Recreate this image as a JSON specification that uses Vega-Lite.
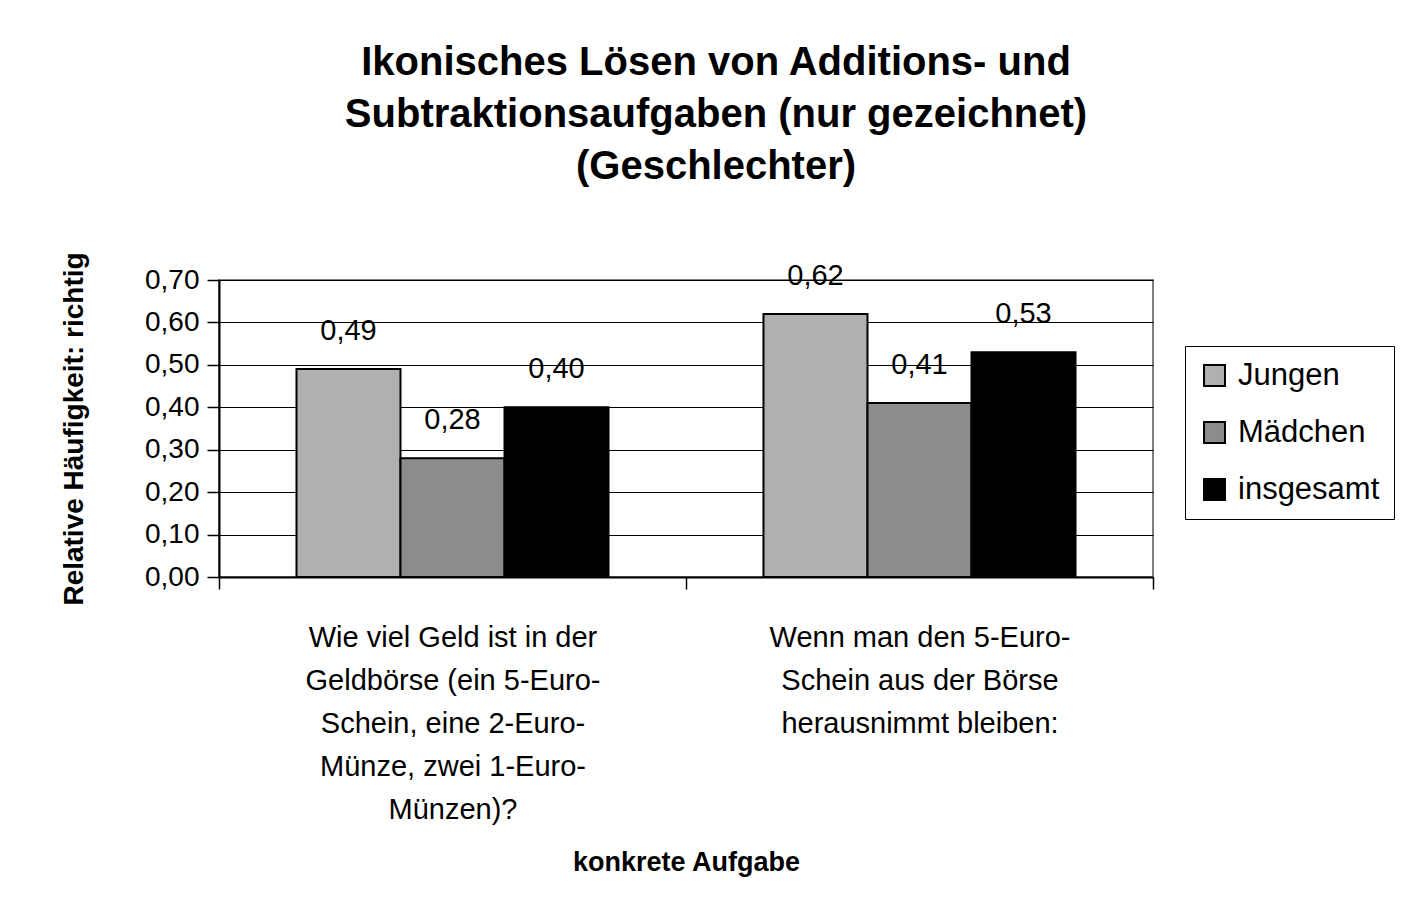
{
  "$schema": "https://vega.github.io/schema/vega-lite/v6.json",
  "width": 934,
  "height": 297,
  "autosize": {"type": "none"},
  "padding": {"left": 219, "top": 280, "right": 262, "bottom": 343},
  "background": "white",
  "config": {
    "font": "Liberation Sans",
    "locale": {"number": {"decimal": ",", "thousands": ".", "grouping": [3], "currency": ["", " €"]}},
    "view": {"stroke": "#808080", "strokeWidth": 2}
  },
  "title": {
    "text": ["Ikonisches Lösen von Additions- und", "Subtraktionsaufgaben (nur gezeichnet)", "(Geschlechter)"],
    "fontSize": 40,
    "fontWeight": "bold",
    "lineHeight": 52,
    "color": "black",
    "anchor": "middle",
    "dx": 30,
    "dy": 6,
    "offset": 71
  },
  "data": {
    "values": [
      {"aufgabe": "Wie viel Geld ist in der|Geldbörse (ein 5-Euro-|Schein, eine 2-Euro-|Münze, zwei 1-Euro-|Münzen)?", "gruppe": "Jungen", "wert": 0.49},
      {"aufgabe": "Wie viel Geld ist in der|Geldbörse (ein 5-Euro-|Schein, eine 2-Euro-|Münze, zwei 1-Euro-|Münzen)?", "gruppe": "Mädchen", "wert": 0.28},
      {"aufgabe": "Wie viel Geld ist in der|Geldbörse (ein 5-Euro-|Schein, eine 2-Euro-|Münze, zwei 1-Euro-|Münzen)?", "gruppe": "insgesamt", "wert": 0.40},
      {"aufgabe": "Wenn man den 5-Euro-|Schein aus der Börse|herausnimmt bleiben:", "gruppe": "Jungen", "wert": 0.62},
      {"aufgabe": "Wenn man den 5-Euro-|Schein aus der Börse|herausnimmt bleiben:", "gruppe": "Mädchen", "wert": 0.41},
      {"aufgabe": "Wenn man den 5-Euro-|Schein aus der Börse|herausnimmt bleiben:", "gruppe": "insgesamt", "wert": 0.53}
    ]
  },
  "encoding": {
    "x": {
      "field": "aufgabe",
      "type": "nominal",
      "sort": null,
      "scale": {"paddingInner": 0, "paddingOuter": 0},
      "axis": {
        "title": "konkrete Aufgabe",
        "titleFontSize": 27,
        "titleFontWeight": "bold",
        "titleColor": "black",
        "titlePadding": 72,
        "labelExpr": "datum.value ? split(datum.value, '|') : ''",
        "labelAngle": 0,
        "labelFontSize": 29,
        "labelLineHeight": 43,
        "labelColor": "black",
        "labelPadding": 34,
        "labelLimit": 500,
        "tickBand": "extent",
        "tickSize": 12,
        "tickColor": "black",
        "tickWidth": 1.5,
        "domainColor": "black",
        "domainWidth": 2
      }
    },
    "xOffset": {
      "field": "gruppe",
      "type": "nominal",
      "sort": ["Jungen", "Mädchen", "insgesamt"],
      "scale": {"paddingInner": 0, "paddingOuter": 0.745}
    },
    "y": {
      "field": "wert",
      "type": "quantitative",
      "scale": {"domain": [0, 0.7]},
      "axis": {
        "title": "Relative Häufigkeit: richtig",
        "titleFontSize": 28,
        "titleFontWeight": "bold",
        "titleColor": "black",
        "titlePadding": 56,
        "values": [0, 0.1, 0.2, 0.3, 0.4, 0.5, 0.6, 0.7],
        "format": ".2f",
        "labelFontSize": 28,
        "labelColor": "black",
        "labelPadding": 8,
        "tickSize": 12,
        "tickColor": "black",
        "tickWidth": 1.5,
        "domainColor": "black",
        "domainWidth": 2,
        "grid": true,
        "gridColor": "black",
        "gridWidth": 1
      }
    }
  },
  "layer": [
    {
      "mark": {"type": "bar", "stroke": "black", "strokeWidth": 2},
      "encoding": {
        "color": {
          "field": "gruppe",
          "type": "nominal",
          "sort": ["Jungen", "Mädchen", "insgesamt"],
          "scale": {"domain": ["Jungen", "Mädchen", "insgesamt"], "range": ["#b0b0b0", "#8c8c8c", "#000000"]},
          "legend": {
            "title": null,
            "orient": "none",
            "legendX": 966,
            "legendY": 66,
            "direction": "vertical",
            "symbolType": "square",
            "symbolSize": 440,
            "symbolStrokeColor": "black",
            "symbolStrokeWidth": 2,
            "labelFontSize": 31,
            "labelColor": "black",
            "labelOffset": 8,
            "rowPadding": 25,
            "strokeColor": "black",
            "fillColor": "white",
            "padding": 14
          }
        }
      }
    },
    {
      "mark": {"type": "text", "dy": -38, "fontSize": 29, "color": "black"},
      "encoding": {
        "text": {"field": "wert", "type": "quantitative", "format": ".2f"},
        "color": {"value": "black"}
      }
    }
  ]
}
